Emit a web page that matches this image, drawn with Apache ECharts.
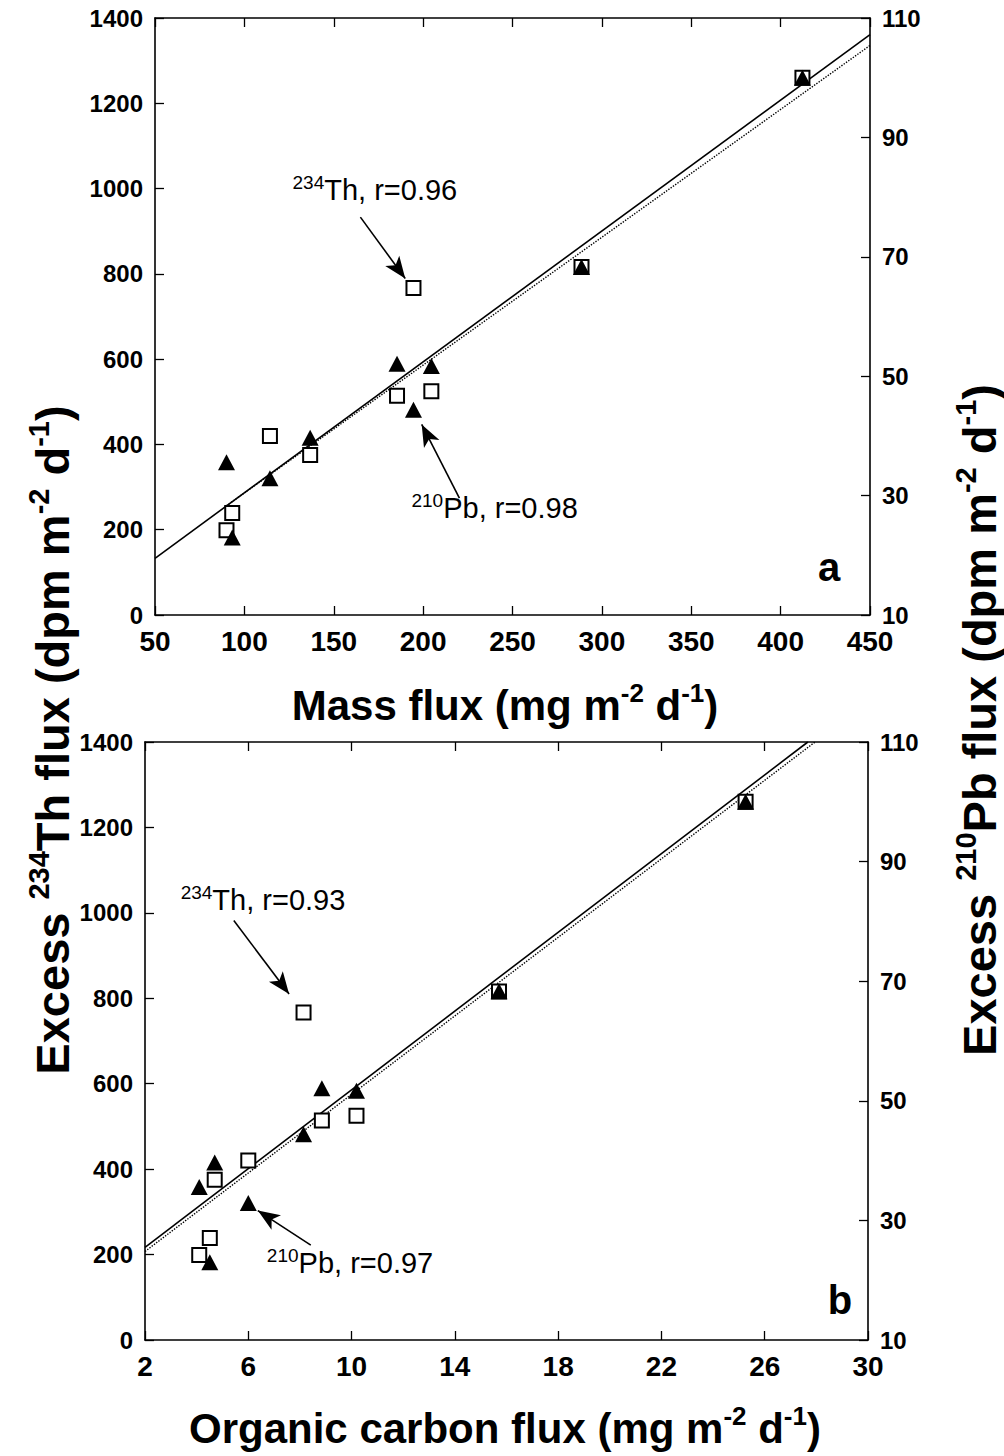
<!DOCTYPE html>
<html><head><meta charset="utf-8">
<script src="https://cdn.jsdelivr.net/npm/echarts@6/dist/echarts.min.js"></script>
<style>html,body{margin:0;padding:0;background:#fff}#c{width:1004px;height:1456px}</style>
</head><body><div id="c"></div>
<script>
// ---- data ----
const massFlux = [90, 93.2, 114.3, 136.8, 185.4, 194.6, 204.6, 288.6, 412.2];
const ocFlux   = [4.10, 4.51, 6.0, 4.70, 8.85, 8.14, 10.19, 15.71, 25.26];
const thFlux   = [199, 239, 420, 375, 514, 767, 525, 816, 1260];
const pbFlux   = [35.6, 23.0, 32.9, 39.7, 52.1, 44.4, 51.7, 68.3, 100.0];
const massTicks = [50, 100, 150, 200, 250, 300, 350, 400, 450];
const ocTicks   = [2, 6, 10, 14, 18, 22, 26, 30];
const thTicks   = [0, 200, 400, 600, 800, 1000, 1200, 1400];
const pbTicks   = [10, 30, 50, 70, 90, 110];
// regression lines (end points)
const fitA_Th = [[50, 133], [450, 1361]];
const fitA_Pb = [[90, 28.3], [450, 105.4]];
const fitB_Th = [[2, 217], [27.67, 1400]];
const fitB_Pb = [[2, 24.8], [27.95, 110]];
// annotation texts
const annTextA = [['234', 'Th, r=0.96'], ['210', 'Pb, r=0.98']];
const annTextB = [['234', 'Th, r=0.93'], ['210', 'Pb, r=0.97']];

// ---- layout / style ----
const FONT = "'Liberation Sans', Arial, Helvetica, sans-serif";
const annPosA = [{at: [173, 997], arrow: [[164.9, 933], [190, 789]]},
                 {at: [240, 251], arrow: [[220.3, 274], [199.2, 447]]}];
const annPosB = [{at: [6.57, 1030], arrow: [[5.44, 982], [7.58, 810]]},
                 {at: [9.94, 180], arrow: [[8.42, 222], [6.37, 303]]}];

const chart = echarts.init(document.getElementById('c'), null, {renderer: 'svg'});

const axisLine = {show: true, lineStyle: {color: '#000', width: 1.6}};
const tick = {show: true, inside: true, length: 9, lineStyle: {color: '#000', width: 1.3}};
const plain = v => String(v);

function xAxisPair(grid, min, max, interval, ticks) {
  return [
    {type: 'value', gridIndex: grid, min, max, interval, position: 'bottom',
     axisLine, splitLine: {show: false},
     axisTick: Object.assign({}, tick, {customValues: ticks}),
     axisLabel: {customValues: ticks, formatter: plain, margin: 12, color: '#000', fontFamily: FONT,
                 fontWeight: 'bold', fontSize: 28}},
    {type: 'value', gridIndex: grid, min, max, interval, position: 'top',
     axisLine, splitLine: {show: false},
     axisTick: Object.assign({}, tick, {customValues: ticks}),
     axisLabel: {show: false}}
  ];
}
function yAxisPair(grid) {
  return [
    {type: 'value', gridIndex: grid, min: 0, max: 1400, interval: 200, position: 'left',
     axisLine, splitLine: {show: false},
     axisTick: Object.assign({}, tick, {customValues: thTicks}),
     axisLabel: {customValues: thTicks, formatter: plain, margin: 12, color: '#000', fontFamily: FONT,
                 fontWeight: 'bold', fontSize: 24}},
    {type: 'value', gridIndex: grid, min: 10, max: 110, interval: 10, position: 'right',
     axisLine, splitLine: {show: false},
     axisTick: Object.assign({}, tick, {customValues: pbTicks}),
     axisLabel: {customValues: pbTicks, formatter: plain, margin: 12, color: '#000', fontFamily: FONT,
                 fontWeight: 'bold', fontSize: 24}}
  ];
}

function annSeries(xi, yi, texts, pos) {
  return {
    type: 'scatter', xAxisIndex: xi, yAxisIndex: yi, data: [], silent: true,
    itemStyle: {color: '#000'},
    markPoint: {
      symbol: 'circle', symbolSize: 1, itemStyle: {color: 'rgba(0,0,0,0)'},
      label: {show: true, position: 'inside', color: '#000',
        rich: {
          s: {fontSize: 19, fontFamily: FONT, verticalAlign: 'top', lineHeight: 18, color: '#000'},
          m: {fontSize: 29, fontFamily: FONT, lineHeight: 34, color: '#000'}
        }},
      data: texts.map((t, i) => ({coord: pos[i].at, label: {formatter: '{s|' + t[0] + '}{m|' + t[1] + '}'}}))
    },
    markLine: {
      silent: true, symbol: ['none', 'arrow'], symbolSize: 20,
      itemStyle: {color: '#000'},
      lineStyle: {color: '#000', width: 1.6, type: 'solid', opacity: 1}, label: {show: false},
      data: pos.map(p => [
        {coord: p.arrow[0], symbol: 'none'},
        {coord: p.arrow[1], symbol: 'arrow', symbolSize: [13, 22], itemStyle: {color: '#000'}}
      ])
    }
  };
}

function panelSeries(xs, xi, yi) {
  const thData = xs.map((x, i) => [x, thFlux[i]]);
  const pbData = xs.map((x, i) => [x, pbFlux[i]]);
  return [
    {type: 'scatter', xAxisIndex: xi, yAxisIndex: yi, data: thData, symbol: 'rect', symbolSize: 14,
     itemStyle: {color: '#fff', borderColor: '#000', borderWidth: 2, opacity: 1}, z: 5},
    {type: 'scatter', xAxisIndex: xi, yAxisIndex: yi + 1, data: pbData, symbol: 'triangle',
     symbolSize: [17, 16], itemStyle: {color: '#000', opacity: 1}, z: 6}
  ];
}

function lineSeries(data, xi, yi, type, width) {
  return {type: 'line', xAxisIndex: xi, yAxisIndex: yi, data, showSymbol: false, symbol: 'none',
          lineStyle: {color: '#000', width, type}, z: 3, silent: true};
}

function richTitle(parts) {
  return parts.map(p => '{' + p[0] + '|' + p[1] + '}').join('');
}
function titleRich(size) {
  return {
    b: {fontSize: size, fontWeight: 'bold', fontFamily: FONT, lineHeight: size + 8, fill: '#000', color: '#000'},
    s: {fontSize: Math.round(size * 0.62), fontWeight: 'bold', fontFamily: FONT, lineHeight: Math.round(size * 0.5),
        verticalAlign: 'top', fill: '#000', color: '#000'}
  };
}
function gtext(x, y, text, rot, rich) {
  return {type: 'text', x, y, rotation: rot, silent: true,
    style: {text, rich, align: 'center', verticalAlign: 'middle',
            textAlign: 'center', textVerticalAlign: 'middle', fill: '#000'}};
}

const option = {
  animation: false,
  backgroundColor: '#fff',
  grid: [
    {left: 155, top: 18, width: 715, height: 597},
    {left: 145, top: 742, width: 723, height: 598}
  ],
  xAxis: [].concat(xAxisPair(0, 50, 450, 50, massTicks), xAxisPair(1, 2, 30, 2, ocTicks)),
  yAxis: [].concat(yAxisPair(0), yAxisPair(1)),
  series: [
    lineSeries(fitA_Th, 0, 0, 'solid', 1.6),
    lineSeries(fitA_Pb, 0, 1, 'dotted', 1.4),
    ...panelSeries(massFlux, 0, 0),
    annSeries(0, 0, annTextA, annPosA),
    lineSeries(fitB_Th, 2, 2, 'solid', 1.6),
    lineSeries(fitB_Pb, 2, 3, 'dotted', 1.4),
    ...panelSeries(ocFlux, 2, 2),
    annSeries(2, 2, annTextB, annPosB)
  ],
  graphic: [
    gtext(52, 740, richTitle([['b', 'Excess '], ['s', '234'], ['b', 'Th flux (dpm m'], ['s', '-2'], ['b', ' d'], ['s', '-1'], ['b', ')']]), Math.PI / 2, titleRich(47)),
    gtext(979, 720, richTitle([['b', 'Excess '], ['s', '210'], ['b', 'Pb flux (dpm m'], ['s', '-2'], ['b', ' d'], ['s', '-1'], ['b', ')']]), Math.PI / 2, titleRich(47)),
    gtext(505, 705, richTitle([['b', 'Mass flux (mg m'], ['s', '-2'], ['b', ' d'], ['s', '-1'], ['b', ')']]), 0, titleRich(42)),
    gtext(505, 1428, richTitle([['b', 'Organic carbon flux (mg m'], ['s', '-2'], ['b', ' d'], ['s', '-1'], ['b', ')']]), 0, titleRich(42)),
    gtext(829, 567, '{b|a}', 0, {b: {fontSize: 40, fontWeight: 'bold', fontFamily: FONT, fill: '#000'}}),
    gtext(840, 1300, '{b|b}', 0, {b: {fontSize: 40, fontWeight: 'bold', fontFamily: FONT, fill: '#000'}})
  ]
};
chart.setOption(option);
</script>
</body></html>
